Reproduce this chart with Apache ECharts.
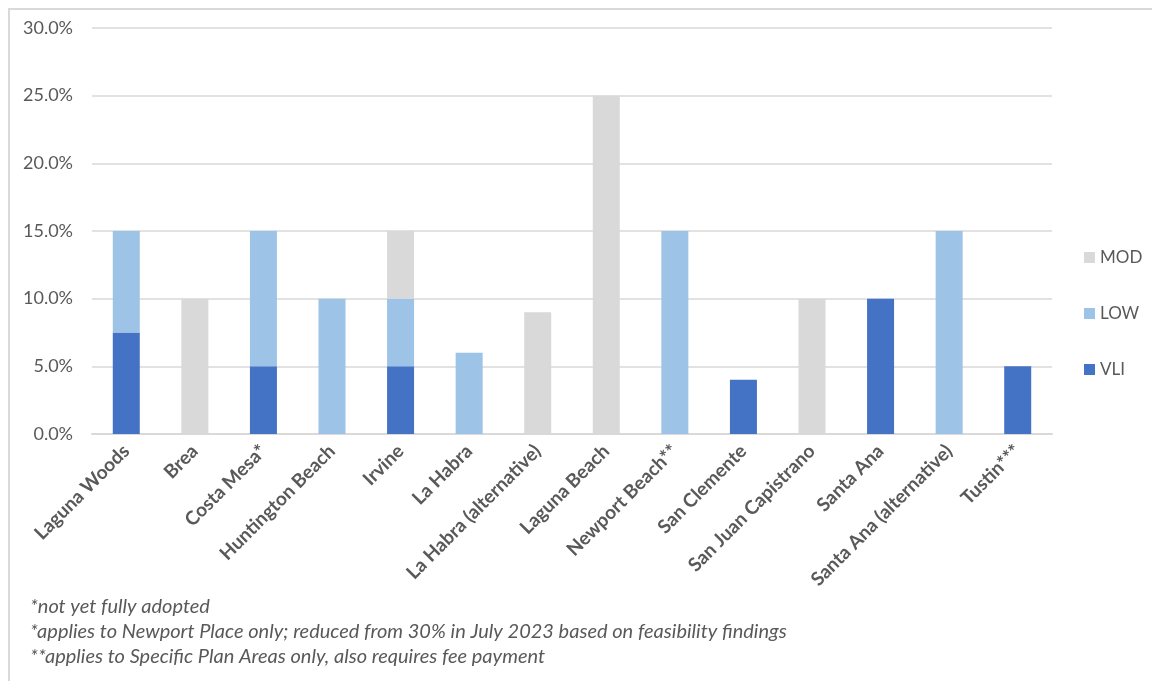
<!DOCTYPE html>
<html>
<head>
<meta charset="utf-8">
<script src="https://cdn.jsdelivr.net/npm/echarts@6/dist/echarts.min.js"></script>
<style>
    html, body { margin: 0; padding: 0; background: #fff; }
    #frame { position: absolute; left: 8px; top: 8px; width: 1144px; height: 673px;
             border-top: 2px solid #d9d9d9; border-left: 2px solid #d9d9d9; box-sizing: border-box; }
    #echartdiv { position: absolute; left: 0; top: 0; width: 1152px; height: 681px; }
</style>
</head>
<body>
<div id="frame"></div>
<div id="echartdiv"></div>
<script>
var cities = ["Laguna Woods", "Brea", "Costa Mesa*", "Huntington Beach", "Irvine", "La Habra",
    "La Habra (alternative)", "Laguna Beach", "Newport Beach**", "San Clemente",
    "San Juan Capistrano", "Santa Ana", "Santa Ana (alternative)", "Tustin***"];
// 百分比
var vliData = [7.5, 0, 5, 0, 5, 0, 0, 0, 0, 4, 0, 10, 0, 5];
var lowData = [7.5, 0, 10, 10, 5, 6, 0, 0, 15, 0, 0, 0, 15, 0];
var modData = [0, 10, 0, 0, 5, 0, 9, 25, 0, 0, 10, 0, 0, 0];
var notes = ["*not yet fully adopted",
    "*applies to Newport Place only; reduced from 30% in July 2023 based on feasibility findings",
    "**applies to Specific Plan Areas only, also requires fee payment"];

var fontName = 'Lato, "Liberation Sans", sans-serif';

function show_bar() {
    var myChart = echarts.init(document.getElementById("echartdiv"));

    function bar(name, data, color) {
        return {
            name: name,
            type: 'bar',
            stack: 'total',
            barWidth: 27,
            data: data,
            itemStyle: {color: color},
            emphasis: {disabled: true}
        };
    }

    var option = {
        animation: false,
        textStyle: {fontFamily: fontName},
        legend: {
            data: ['MOD', 'LOW', 'VLI'],
            orient: 'vertical',
            left: 1079,
            top: 244,
            itemWidth: 11,
            itemHeight: 11,
            itemGap: 39,
            icon: 'rect',
            textStyle: {color: '#595959', fontSize: 17, fontFamily: fontName}
        },
        grid: {
            left: 92,   //图表距边框的距离
            right: 100,
            top: 28,
            bottom: 247,
            containLabel: false
        },
        xAxis: [{
            type: 'category',
            data: cities,
            axisLine: {lineStyle: {color: '#d9d9d9', width: 2}},
            axisTick: {show: false},
            axisLabel: {
                interval: 0,
                rotate: 45,
                margin: 14,
                color: '#595959',
                fontSize: 19,
                fontWeight: 'bold',
                fontFamily: fontName
            }
        }],
        yAxis: [{
            type: 'value',
            min: 0,
            max: 30,
            interval: 5,
            axisLine: {show: false},
            axisTick: {show: false},
            splitLine: {lineStyle: {color: '#d9d9d9', width: 1.5}},
            axisLabel: {
                margin: 19,
                color: '#595959',
                fontSize: 18,
                fontFamily: fontName,
                formatter: function (v) { return v.toFixed(1) + '%'; }
            }
        }],
        graphic: notes.map(function (t, i) {
            return {
                type: 'text',
                left: 30,
                top: 597 + i * 25,
                style: {
                    text: t,
                    fill: '#595959',
                    font: 'italic 20px ' + fontName
                }
            };
        }),
        series: [
            bar('VLI', vliData, '#4472c4'),
            bar('LOW', lowData, '#9dc3e6'),
            bar('MOD', modData, '#d9d9d9')
        ]
    };
    myChart.setOption(option);
}

show_bar();
</script>
</body>
</html>
